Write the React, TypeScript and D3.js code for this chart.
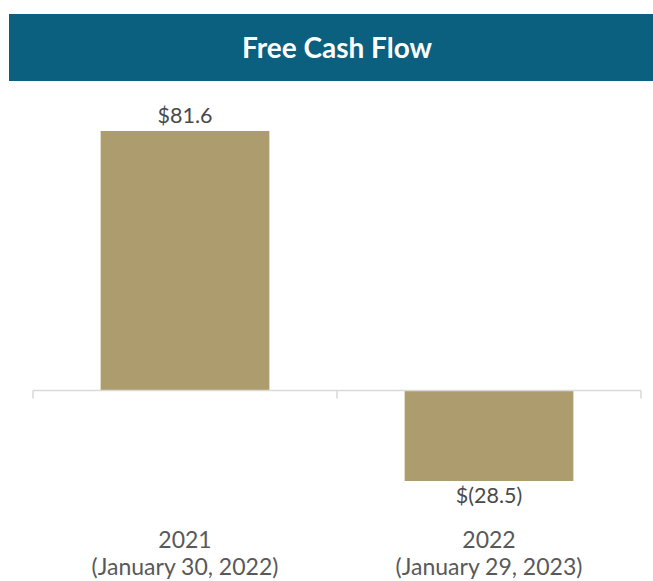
import React from "react";
import * as d3 from "d3";

const categories = ["2021", "2022"];
const subLabels = ["(January 30, 2022)", "(January 29, 2023)"];
const values = [81.6, -28.5];
const valueLabels = ["$81.6", "$(28.5)"];
const title = "Free Cash Flow";

const W = 653;
const H = 581;
const FONT = "Lato, 'Open Sans', sans-serif";

export default function App() {
  const x = d3.scaleBand<string>().domain(categories).range([33, 641]).paddingInner(0.445).paddingOuter(0.2225);
  const y = d3.scaleLinear().domain([-28.5, 81.6]).range([481, 131]);
  const y0 = y(0);
  const ticks = [33, 337, 641];
  return (
    <svg width={W} height={H} style={{ position: "absolute", left: 0, top: 0, background: "#fff" }}>
      <rect x={9} y={14} width={W - 9} height={67} fill="#0b6080" />
      <text x={337} y={58} textAnchor="middle" fill="#fff" fontFamily={FONT} fontWeight={700} fontSize={28}>
        {title}
      </text>
      {categories.map((c, i) => {
        const v = values[i];
        const bx = x(c)!;
        const top = y(Math.max(0, v));
        const bot = y(Math.min(0, v));
        return (
          <g key={c}>
            <rect x={bx} y={top} width={x.bandwidth()} height={bot - top} fill="#ad9d6e" />
            <text
              x={bx + x.bandwidth() / 2}
              y={v >= 0 ? top - 8 : bot + 22}
              textAnchor="middle"
              fill="#4a4a4a"
              fontFamily={FONT}
              fontSize={21.5}
            >
              {valueLabels[i]}
            </text>
            <text x={bx + x.bandwidth() / 2} y={548} textAnchor="middle" fill="#595959" fontFamily={FONT} fontSize={23}>
              {c}
            </text>
            <text x={bx + x.bandwidth() / 2} y={575} textAnchor="middle" fill="#595959" fontFamily={FONT} fontSize={23}>
              {subLabels[i]}
            </text>
          </g>
        );
      })}
      <line x1={33} x2={641} y1={y0} y2={y0} stroke="#d9d9d9" strokeWidth={1.5} />
      {ticks.map((t) => (
        <line key={t} x1={t} x2={t} y1={y0} y2={y0 + 8} stroke="#d9d9d9" strokeWidth={1.5} />
      ))}
    </svg>
  );
}
